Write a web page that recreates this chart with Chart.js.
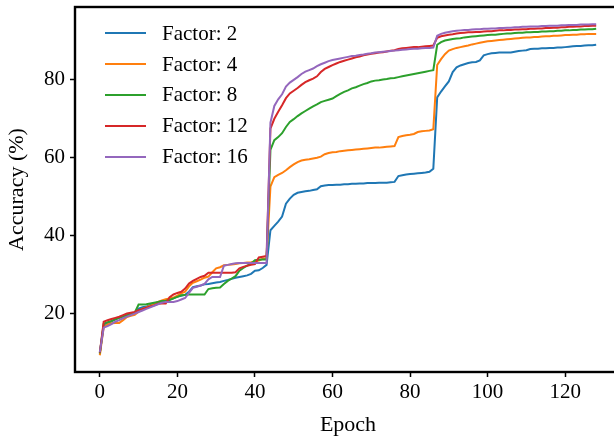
<!DOCTYPE html>
<html lang="en">
<head>
  <meta charset="UTF-8">
  <title>Accuracy vs Epoch</title>
  <script src="https://cdn.jsdelivr.net/npm/chart.js"></script>
  <style>
    body {
      margin: 0;
      padding: 0;
      background: #fff;
      overflow: hidden;
      width: 614px;
      height: 439px;
      position: relative;
    }
    canvas {
      display: block;
    }
    #legend {
      position: absolute;
      left: 105px;
      top: 18px;
      font-family: "Liberation Serif", serif;
      font-size: 21px;
      color: #000;
    }
    #legend .row {
      display: flex;
      align-items: center;
      height: 30.8px;
    }
    #legend .swatch {
      width: 41px;
      height: 2px;
      margin-right: 16px;
    }
  </style>
</head>
<body>
  <canvas id="chart" width="621" height="439"></canvas>
  <div id="legend"></div>
  <script>
    const epochs = Array.from({ length: 129 }, (_, i) => i);
    const xTicks = [0, 20, 40, 60, 80, 100, 120];
    const yTicks = [20, 40, 60, 80];
    const seriesNames = ['Factor: 2', 'Factor: 4', 'Factor: 8', 'Factor: 12', 'Factor: 16'];
    const seriesColors = ['#1f77b4', '#ff7f0e', '#2ca02c', '#d62728', '#9467bd'];

    const factor2 = [
      9.8, 17.0, 17.5, 18.0, 18.5, 18.9, 19.2, 19.5, 19.8, 20.0,
      21.3, 21.6, 21.8, 22.2, 22.5, 22.8, 23.1, 23.3, 23.6, 23.9,
      24.4, 24.6, 24.8, 25.6, 26.8, 27.0, 27.2, 27.5, 27.6, 27.8,
      28.0, 28.1, 28.4, 28.6, 28.9, 29.2, 29.4, 29.6, 29.8, 30.2,
      31.0, 31.1, 31.7, 32.5, 41.4, 42.5, 43.6, 44.9, 48.2, 49.5,
      50.5, 51.0, 51.2, 51.4, 51.5, 51.7, 51.9, 52.7, 52.9, 53.0,
      53.0, 53.1, 53.1, 53.2, 53.2, 53.3, 53.3, 53.4, 53.4, 53.5,
      53.5, 53.5, 53.6, 53.6, 53.6, 53.7, 53.8, 55.3, 55.5, 55.7,
      55.8, 55.9, 56.0, 56.1, 56.2, 56.4, 57.2, 75.5, 77.0, 78.3,
      79.6, 82.0, 83.2, 83.7, 84.0, 84.3, 84.5, 84.6, 85.0, 86.3,
      86.6, 86.8, 86.9, 87.0, 87.0, 87.0, 87.0, 87.2, 87.4, 87.5,
      87.6, 87.9, 88.0, 88.0, 88.1, 88.1, 88.2, 88.2, 88.3, 88.3,
      88.4, 88.5, 88.6, 88.7, 88.7, 88.8, 88.9, 88.9, 89.0
    ];
    const factor4 = [
      9.3, 16.6, 17.2, 17.5, 17.6, 17.6, 18.3, 19.1, 19.4, 19.7,
      20.5, 21.2, 21.6, 22.0, 22.5, 23.0, 23.4, 23.7, 23.9, 24.1,
      24.6, 25.2, 25.6, 27.0, 27.9, 28.3, 28.7, 29.2, 29.5, 30.6,
      31.6, 31.9, 32.4, 32.5, 32.6, 32.7, 32.9, 33.0, 33.1, 33.2,
      33.4, 33.6, 34.1, 34.2, 52.6, 55.0, 55.6, 56.1, 56.8, 57.6,
      58.3, 58.9, 59.3, 59.5, 59.6, 59.8, 60.0, 60.3, 60.9, 61.2,
      61.4, 61.5, 61.7, 61.8, 61.9, 62.0, 62.1, 62.2, 62.3, 62.4,
      62.5, 62.6, 62.6, 62.7, 62.8, 62.9, 63.0, 65.3, 65.6, 65.8,
      65.9, 66.1, 66.6, 66.8, 66.9, 67.0, 67.3, 83.8, 85.3, 86.6,
      87.5, 87.9, 88.2, 88.4, 88.6, 88.8, 89.1, 89.3, 89.5, 89.7,
      89.9, 90.0, 90.1, 90.2, 90.3, 90.4, 90.5, 90.6, 90.7, 90.8,
      90.9, 90.9, 91.0, 91.0, 91.1, 91.2, 91.2, 91.3, 91.3, 91.4,
      91.5, 91.5, 91.6, 91.6, 91.7, 91.7, 91.8, 91.8, 91.8
    ];
    const factor8 = [
      9.8, 17.4, 17.8, 18.1, 18.5, 18.9, 19.2, 19.6, 19.9, 20.2,
      22.3, 22.3, 22.4, 22.6, 22.8, 23.0, 23.2, 23.3, 23.5, 23.9,
      24.3, 24.7, 24.8, 24.9, 24.9, 24.9, 24.9, 24.9, 26.3, 26.5,
      26.6, 26.7, 27.6, 28.4, 29.0, 29.6, 31.0, 31.7, 32.3, 32.8,
      33.7, 33.8, 33.9, 33.9, 62.0, 64.5, 65.3, 66.3, 67.9, 69.2,
      69.9, 70.7, 71.4, 72.0, 72.6, 73.2, 73.7, 74.3, 74.6, 74.9,
      75.2, 75.8, 76.4, 76.9, 77.3, 77.8, 78.1, 78.5, 78.9, 79.2,
      79.6, 79.8, 79.9, 80.1, 80.2, 80.4, 80.5, 80.7, 80.9, 81.1,
      81.3, 81.5, 81.7, 81.9, 82.1, 82.3, 82.5, 89.0, 89.7, 90.1,
      90.3, 90.5, 90.6, 90.7, 90.9, 91.0, 91.1, 91.2, 91.3, 91.4,
      91.5, 91.6, 91.6, 91.7, 91.8, 91.9, 91.9, 92.0, 92.1, 92.1,
      92.2, 92.2, 92.3, 92.3, 92.4, 92.4, 92.5, 92.5, 92.6, 92.6,
      92.7, 92.7, 92.8, 92.8, 92.9, 92.9, 93.0, 93.0, 93.1
    ];
    const factor12 = [
      10.0, 17.9, 18.3, 18.6, 18.9, 19.2, 19.6, 20.0, 20.2, 20.4,
      20.9, 21.2, 21.5, 21.8, 22.1, 22.5, 22.6, 22.6, 24.2, 24.9,
      25.3, 25.6, 26.4, 27.7, 28.4, 28.9, 29.4, 29.7, 30.5, 30.5,
      30.5, 30.5, 30.5, 30.5, 30.5, 30.6, 31.6, 32.0, 32.3, 32.5,
      32.7, 34.4, 34.6, 34.8, 67.5, 70.0, 71.8, 73.5, 75.3, 76.5,
      77.2, 77.9, 78.7, 79.4, 79.9, 80.3, 80.9, 82.0, 82.8, 83.3,
      83.8, 84.2, 84.6, 84.9, 85.2, 85.5, 85.8, 86.0, 86.3, 86.5,
      86.7, 86.8, 87.0, 87.1, 87.3, 87.5, 87.6, 87.9, 88.1, 88.2,
      88.3, 88.4, 88.4, 88.5, 88.6, 88.7, 88.8, 90.8, 91.2, 91.4,
      91.6, 91.7, 91.9, 92.0, 92.1, 92.2, 92.2, 92.3, 92.3, 92.4,
      92.5, 92.5, 92.6, 92.7, 92.7, 92.8, 92.8, 92.9, 92.9, 93.0,
      93.0, 93.1, 93.1, 93.2, 93.2, 93.3, 93.3, 93.4, 93.4, 93.5,
      93.5, 93.6, 93.6, 93.7, 93.7, 93.8, 93.8, 93.9, 93.9
    ];
    const factor16 = [
      10.1, 16.4, 16.8, 17.3, 17.9, 18.3, 18.8, 19.2, 19.6, 20.0,
      20.4, 20.8, 21.2, 21.6, 22.0, 22.4, 22.8, 23.0, 23.0, 23.0,
      23.2, 23.6, 24.0, 25.3, 26.6, 26.9, 27.2, 27.6, 28.8, 29.4,
      29.4, 29.4, 32.3, 32.5, 32.7, 32.9, 33.0, 33.0, 33.0, 33.0,
      33.0, 33.0, 33.0, 33.0, 69.0, 73.3, 75.0, 76.3, 78.3, 79.3,
      80.0, 80.7, 81.5, 82.1, 82.5, 82.9, 83.5, 84.0, 84.4, 84.8,
      85.1, 85.3, 85.5, 85.7, 85.9, 86.1, 86.2, 86.4, 86.5, 86.7,
      86.8, 87.0, 87.1, 87.2, 87.3, 87.4, 87.5, 87.6, 87.7, 87.8,
      87.9, 88.0, 88.0, 88.1, 88.2, 88.2, 88.3, 91.3, 91.8, 92.1,
      92.3, 92.5, 92.6, 92.7, 92.8, 92.8, 92.9, 93.0, 93.0, 93.1,
      93.1, 93.2, 93.2, 93.3, 93.3, 93.4, 93.4, 93.5, 93.5, 93.6,
      93.6, 93.7, 93.7, 93.7, 93.8, 93.8, 93.9, 93.9, 93.9, 94.0,
      94.0, 94.1, 94.1, 94.1, 94.2, 94.2, 94.2, 94.3, 94.3
    ];
    const seriesValues = [factor2, factor4, factor8, factor12, factor16];

    const serif = "'Liberation Serif', serif";

    // box around the plot area, like matplotlib spines
    const frame = {
      id: 'frame',
      afterDatasetsDraw(chart) {
        const a = chart.chartArea;
        const ctx = chart.ctx;
        ctx.save();
        ctx.strokeStyle = '#000';
        ctx.lineWidth = 2.4;
        ctx.strokeRect(a.left, a.top, a.right - a.left, a.bottom - a.top);
        ctx.restore();
      }
    };

    const datasets = seriesNames.map((name, i) => ({
      label: name,
      data: epochs.map((e, j) => ({ x: e, y: seriesValues[i][j] })),
      borderColor: seriesColors[i],
      backgroundColor: seriesColors[i],
      borderWidth: 2,
      pointRadius: 0,
      tension: 0,
      order: seriesNames.length - 1 - i
    }));

    new Chart(document.getElementById('chart'), {
      type: 'line',
      data: { datasets: datasets },
      options: {
        responsive: false,
        animation: false,
        layout: { padding: { top: 7, right: 0, left: 0, bottom: 0 } },
        plugins: {
          legend: { display: false },
          tooltip: { enabled: false }
        },
        scales: {
          x: {
            type: 'linear',
            min: -6.4,
            max: 134.4,
            afterBuildTicks: s => { s.ticks = xTicks.map(v => ({ value: v })); },
            afterFit: s => { s.height = 67; },
            grid: { drawOnChartArea: false, drawTicks: true, tickLength: 5, tickWidth: 1.5, tickColor: '#000' },
            border: { display: false },
            ticks: { color: '#000', padding: 3, maxRotation: 0, font: { family: serif, size: 21 } },
            title: { display: true, text: 'Epoch', color: '#000', padding: { top: 0, bottom: 1 }, font: { family: serif, size: 22 } }
          },
          y: {
            min: 5.0,
            max: 98.7,
            afterBuildTicks: s => { s.ticks = yTicks.map(v => ({ value: v })); },
            afterFit: s => { s.width = 75; s.paddingTop = 0; s.paddingBottom = 0; },
            grid: { drawOnChartArea: false, drawTicks: true, tickLength: 5, tickWidth: 1.5, tickColor: '#000' },
            border: { display: false },
            ticks: { color: '#000', padding: 5, font: { family: serif, size: 21 } },
            title: { display: true, text: 'Accuracy (%)', color: '#000', padding: { top: 4, bottom: 0 }, font: { family: serif, size: 22 } }
          }
        }
      },
      plugins: [frame]
    });

    const legend = document.getElementById('legend');
    seriesNames.forEach((name, i) => {
      const row = document.createElement('div');
      row.className = 'row';
      const sw = document.createElement('span');
      sw.className = 'swatch';
      sw.style.background = seriesColors[i];
      const label = document.createElement('span');
      label.textContent = name;
      row.appendChild(sw);
      row.appendChild(label);
      legend.appendChild(row);
    });
  </script>
</body>
</html>
